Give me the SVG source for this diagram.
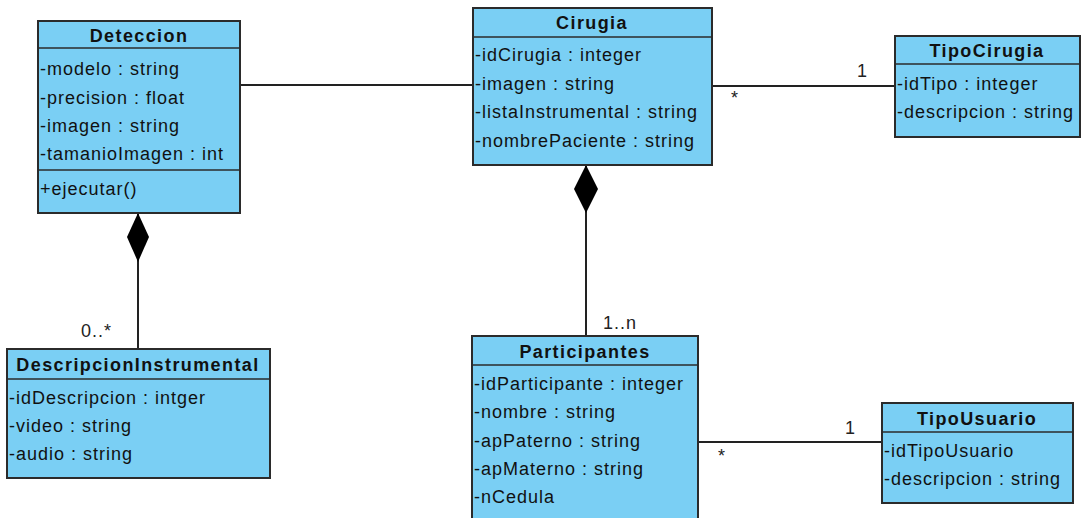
<svg xmlns="http://www.w3.org/2000/svg" width="1081" height="518" viewBox="0 0 1081 518">
<style>
.box{fill:#7acff4;stroke:#2b2b2b;stroke-width:2}
.sep{stroke:#2b2b2b;stroke-width:1.5}
.t{font-family:"Liberation Sans",Arial,sans-serif;font-size:18px;letter-spacing:1px;fill:#111}
.h{font-family:"Liberation Sans",Arial,sans-serif;font-size:18px;letter-spacing:1.4px;font-weight:bold;fill:#111;text-anchor:middle}
.ln{stroke:#222;stroke-width:2;fill:none}
.m{font-family:"Liberation Sans",Arial,sans-serif;font-size:18px;letter-spacing:1px;fill:#222}
</style>
<rect width="1081" height="518" fill="#fff"/>
<g id="connectors">
<line class="ln" x1="240" y1="85" x2="473" y2="85"/>
<line class="ln" x1="712" y1="86" x2="895" y2="86"/>
<line class="ln" x1="138" y1="213" x2="138" y2="349"/>
<polygon points="138,213 149,237 138,262 127,237" fill="#000"/>
<line class="ln" x1="586" y1="165" x2="586" y2="336"/>
<polygon points="586,165 598,189 586,213 574,189" fill="#000"/>
<line class="ln" x1="698" y1="442" x2="882" y2="442"/>
<text class="m" x="857" y="77">1</text>
<text class="m" x="731" y="104" font-size="14">*</text>
<text class="m" x="81" y="337">0..*</text>
<text class="m" x="603" y="329">1..n</text>
<text class="m" x="845" y="434">1</text>
<text class="m" x="718" y="462" font-size="14">*</text>
</g>
<g id="Deteccion">
<rect class="box" x="38" y="21" width="202" height="192"/>
<line class="sep" x1="38" y1="48" x2="240" y2="48"/>
<line class="sep" x1="38" y1="170" x2="240" y2="170"/>
<text class="h" x="139" y="42">Deteccion</text>
<text class="t" x="40" y="75">-modelo : string</text>
<text class="t" x="40" y="104">-precision : float</text>
<text class="t" x="40" y="132">-imagen : string</text>
<text class="t" x="40" y="160">-tamanioImagen : int</text>
<text class="t" x="40" y="195">+ejecutar()</text>
</g>
<g id="Cirugia">
<rect class="box" x="473" y="8" width="239" height="157"/>
<line class="sep" x1="473" y1="37" x2="712" y2="37"/>
<text class="h" x="592" y="29">Cirugia</text>
<text class="t" x="475" y="61">-idCirugia : integer</text>
<text class="t" x="475" y="90">-imagen : string</text>
<text class="t" x="475" y="118">-listaInstrumental : string</text>
<text class="t" x="475" y="147">-nombrePaciente : string</text>
</g>
<g id="TipoCirugia">
<rect class="box" x="895" y="36" width="185" height="101"/>
<line class="sep" x1="895" y1="64" x2="1080" y2="64"/>
<text class="h" x="987" y="57">TipoCirugia</text>
<text class="t" x="897" y="90">-idTipo : integer</text>
<text class="t" x="897" y="118">-descripcion : string</text>
</g>
<g id="DescripcionInstrumental">
<rect class="box" x="7" y="349" width="263" height="129"/>
<line class="sep" x1="7" y1="379" x2="270" y2="379"/>
<text class="h" x="138" y="371">DescripcionInstrumental</text>
<text class="t" x="9" y="404">-idDescripcion : intger</text>
<text class="t" x="9" y="432">-video : string</text>
<text class="t" x="9" y="460">-audio : string</text>
</g>
<g id="Participantes">
<rect class="box" x="472" y="336" width="226" height="190"/>
<line class="sep" x1="472" y1="365" x2="698" y2="365"/>
<text class="h" x="585" y="358">Participantes</text>
<text class="t" x="474" y="390">-idParticipante : integer</text>
<text class="t" x="474" y="418">-nombre : string</text>
<text class="t" x="474" y="447">-apPaterno : string</text>
<text class="t" x="474" y="475">-apMaterno : string</text>
<text class="t" x="474" y="503">-nCedula</text>
</g>
<g id="TipoUsuario">
<rect class="box" x="882" y="403" width="191" height="100"/>
<line class="sep" x1="882" y1="432" x2="1073" y2="432"/>
<text class="h" x="977" y="425">TipoUsuario</text>
<text class="t" x="884" y="457">-idTipoUsuario</text>
<text class="t" x="884" y="485">-descripcion : string</text>
</g>
</svg>
